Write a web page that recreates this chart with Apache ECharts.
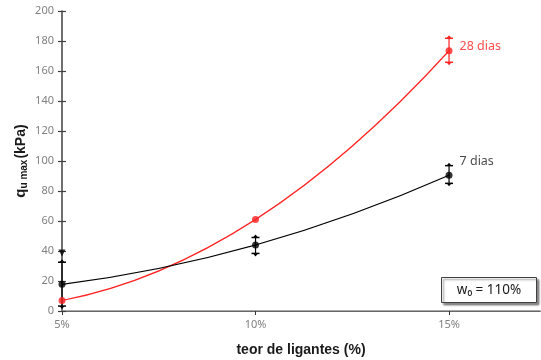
<!DOCTYPE html>
<html>
<head>
<meta charset="utf-8">
<script src="https://cdn.jsdelivr.net/npm/echarts@6/dist/echarts.min.js"></script>
<style>html,body{margin:0;padding:0;background:#fff}#c{width:541px;height:360px}</style>
</head>
<body>
<div id="c"></div>
<script>
// ---- data ----
var xValues = [5, 10, 15];
var xTickLabels = ['5%', '10%', '15%'];
var yTicks = [0, 20, 40, 60, 80, 100, 120, 140, 160, 180, 200];
var days28 = [7, 61, 173.5];
var days7 = [17.8, 44, 90.5];
var err28Low = [null, null, 165.8];
var err28High = [null, null, 181.8];
var err7Low = [3.3, 38.4, 85.1];
var err7High = [32.5, 49, 96.9];
var extraMarker = [[5, 38.7]];
var seriesNames = ['28 dias', '7 dias'];
var boxText = 'w₀ = 110%';

var RED = '#ff2020';
var BLACK = '#000000';

function curveSeries(vals, color) {
  return {
    type: 'custom',
    silent: true,
    clip: true,
    data: [[xValues[0], vals[0]]],
    renderItem: function (params, api) {
      var p0 = api.coord([xValues[0], vals[0]]);
      var p1 = api.coord([xValues[1], vals[1]]);
      var p2 = api.coord([xValues[2], vals[2]]);
      var cx = 2 * p1[0] - 0.5 * (p0[0] + p2[0]);
      var cy = 2 * p1[1] - 0.5 * (p0[1] + p2[1]);
      return {
        type: 'bezierCurve',
        shape: { x1: p0[0], y1: p0[1], x2: p2[0], y2: p2[1], cpx1: cx, cpy1: cy },
        style: { stroke: color, lineWidth: 1.2, fill: null }
      };
    },
    z: 2
  };
}

function errData(lo, hi) {
  var d = [];
  for (var i = 0; i < xValues.length; i++) {
    if (lo[i] != null) d.push([xValues[i], lo[i], hi[i]]);
  }
  return d;
}

function errSeries(lo, hi, color) {
  return {
    type: 'custom',
    silent: true,
    data: errData(lo, hi),
    encode: { x: 0, y: [1, 2] },
    renderItem: function (params, api) {
      var x = api.value(0);
      var a = api.coord([x, api.value(1)]);
      var b = api.coord([x, api.value(2)]);
      var w = 4;
      return {
        type: 'group',
        children: [
          { type: 'line', shape: { x1: a[0], y1: a[1], x2: b[0], y2: b[1] }, style: { stroke: color, lineWidth: 1.2 } },
          { type: 'line', shape: { x1: a[0] - w, y1: a[1], x2: a[0] + w, y2: a[1] }, style: { stroke: color, lineWidth: 1.5 } },
          { type: 'line', shape: { x1: b[0] - w, y1: b[1], x2: b[0] + w, y2: b[1] }, style: { stroke: color, lineWidth: 1.5 } },
          { type: 'polygon', shape: { points: [[a[0] - 2.5, a[1]], [a[0] + 2.5, a[1]], [a[0], a[1] + 3]] }, style: { fill: color } },
          { type: 'polygon', shape: { points: [[b[0] - 2.5, b[1]], [b[0] + 2.5, b[1]], [b[0], b[1] - 3]] }, style: { fill: color } }
        ]
      };
    },
    z: 3
  };
}

function pointData(vals) {
  return xValues.map(function (x, i) { return [x, vals[i]]; });
}

var chart = echarts.init(document.getElementById('c'), null, { renderer: 'canvas' });
var labelFont = 'Noto Sans';

chart.setOption({
  animation: false,
  grid: { left: 62, top: 11, right: 1, bottom: 49, containLabel: false, outerBoundsMode: 'none' },
  xAxis: [{
    type: 'value', min: 5, max: 17.35,
    name: 'teor de ligantes (%)', nameLocation: 'middle', nameGap: 32,
    nameTextStyle: { fontFamily: 'Liberation Sans', fontWeight: 'bold', fontSize: 14, color: '#1a1a1a' },
    axisLine: { show: true, onZero: false, lineStyle: { color: '#000', width: 1.2 } },
    axisTick: { show: true, length: 4, customValues: xValues, lineStyle: { color: '#333' } },
    axisLabel: { customValues: xValues, formatter: function (v) { return xTickLabels[xValues.indexOf(v)] || ''; }, color: '#808080', fontSize: 11, fontFamily: labelFont, margin: 8 },
    splitLine: { show: false }
  }, {
    type: 'value', min: 5, max: 17.35, position: 'top',
    axisLine: { show: true, lineStyle: { color: '#8a8a8a', width: 1.5 } },
    axisTick: { show: false }, axisLabel: { show: false }, splitLine: { show: false }
  }],
  yAxis: [{
    type: 'value', min: 0, max: 200, interval: 20,
    name: '{q|q}{s|u max}{k|(kPa)}', nameLocation: 'middle', nameGap: 33, nameMoveOverlap: false,
    nameTextStyle: {
      rich: {
        q: { fontFamily: 'Liberation Sans', fontWeight: 'bold', fontSize: 15, color: '#1a1a1a' },
        s: { fontFamily: 'Liberation Sans', fontWeight: 'bold', fontSize: 10, color: '#1a1a1a', verticalAlign: 'bottom', padding: [6, 1, 0, 0] },
        k: { fontFamily: 'Liberation Sans', fontWeight: 'bold', fontSize: 14, color: '#1a1a1a' }
      }
    },
    axisLine: { show: true, lineStyle: { color: '#404040', width: 1.5 } },
    axisTick: { show: true, length: 4, lineStyle: { color: '#404040', width: 1.2 } },
    axisLabel: { color: '#808080', fontSize: 11, fontFamily: labelFont, margin: 8,
      formatter: function (v) { return yTicks.indexOf(v) >= 0 ? String(v) : ''; } },
    splitLine: { show: false }
  }, {
    type: 'value', min: 0, max: 200, interval: 20, position: 'left', offset: 0,
    axisLine: { show: false },
    axisTick: { show: true, inside: true, length: 4, lineStyle: { color: '#404040', width: 1.2 } },
    axisLabel: { show: false }, splitLine: { show: false }
  }],
  series: [
    curveSeries(days28, RED),
    curveSeries(days7, BLACK),
    errSeries(err28Low, err28High, RED),
    errSeries(err7Low, err7High, BLACK),
    {
      name: seriesNames[0], type: 'scatter', data: pointData(days28),
      symbol: 'circle', symbolSize: 7, itemStyle: { color: RED }, z: 4,
      label: { show: true, position: 'right', distance: 7, offset: [0, -4], fontFamily: labelFont, fontSize: 12.5, color: RED,
        formatter: function (p) { return p.dataIndex === 2 ? seriesNames[0] : ''; } }
    },
    {
      name: seriesNames[1], type: 'scatter', data: pointData(days7),
      symbol: 'circle', symbolSize: 7, itemStyle: { color: BLACK }, z: 4,
      label: { show: true, position: 'right', distance: 7, offset: [0, -14], fontFamily: labelFont, fontSize: 12.5, color: '#1a1a1a',
        formatter: function (p) { return p.dataIndex === 2 ? seriesNames[1] : ''; } }
    },
    {
      type: 'scatter', data: extraMarker, symbol: 'triangle', symbolRotate: 180, symbolSize: 7,
      itemStyle: { color: BLACK }, z: 4
    }
  ],
  graphic: [{
    type: 'group', left: 441, top: 277,
    children: [
      { type: 'rect', shape: { x: 0, y: 0, width: 95, height: 25 },
        style: { fill: '#fff', stroke: '#404040', lineWidth: 1, shadowColor: 'rgba(0,0,0,0.45)', shadowBlur: 2, shadowOffsetX: 2, shadowOffsetY: 2 } },
      { type: 'text', x: 47.5, y: 12.5,
        style: { text: boxText, fontFamily: labelFont, fontSize: 13.5, fill: '#1a1a1a', align: 'center', verticalAlign: 'middle' } }
    ]
  }]
});
</script>
</body>
</html>
